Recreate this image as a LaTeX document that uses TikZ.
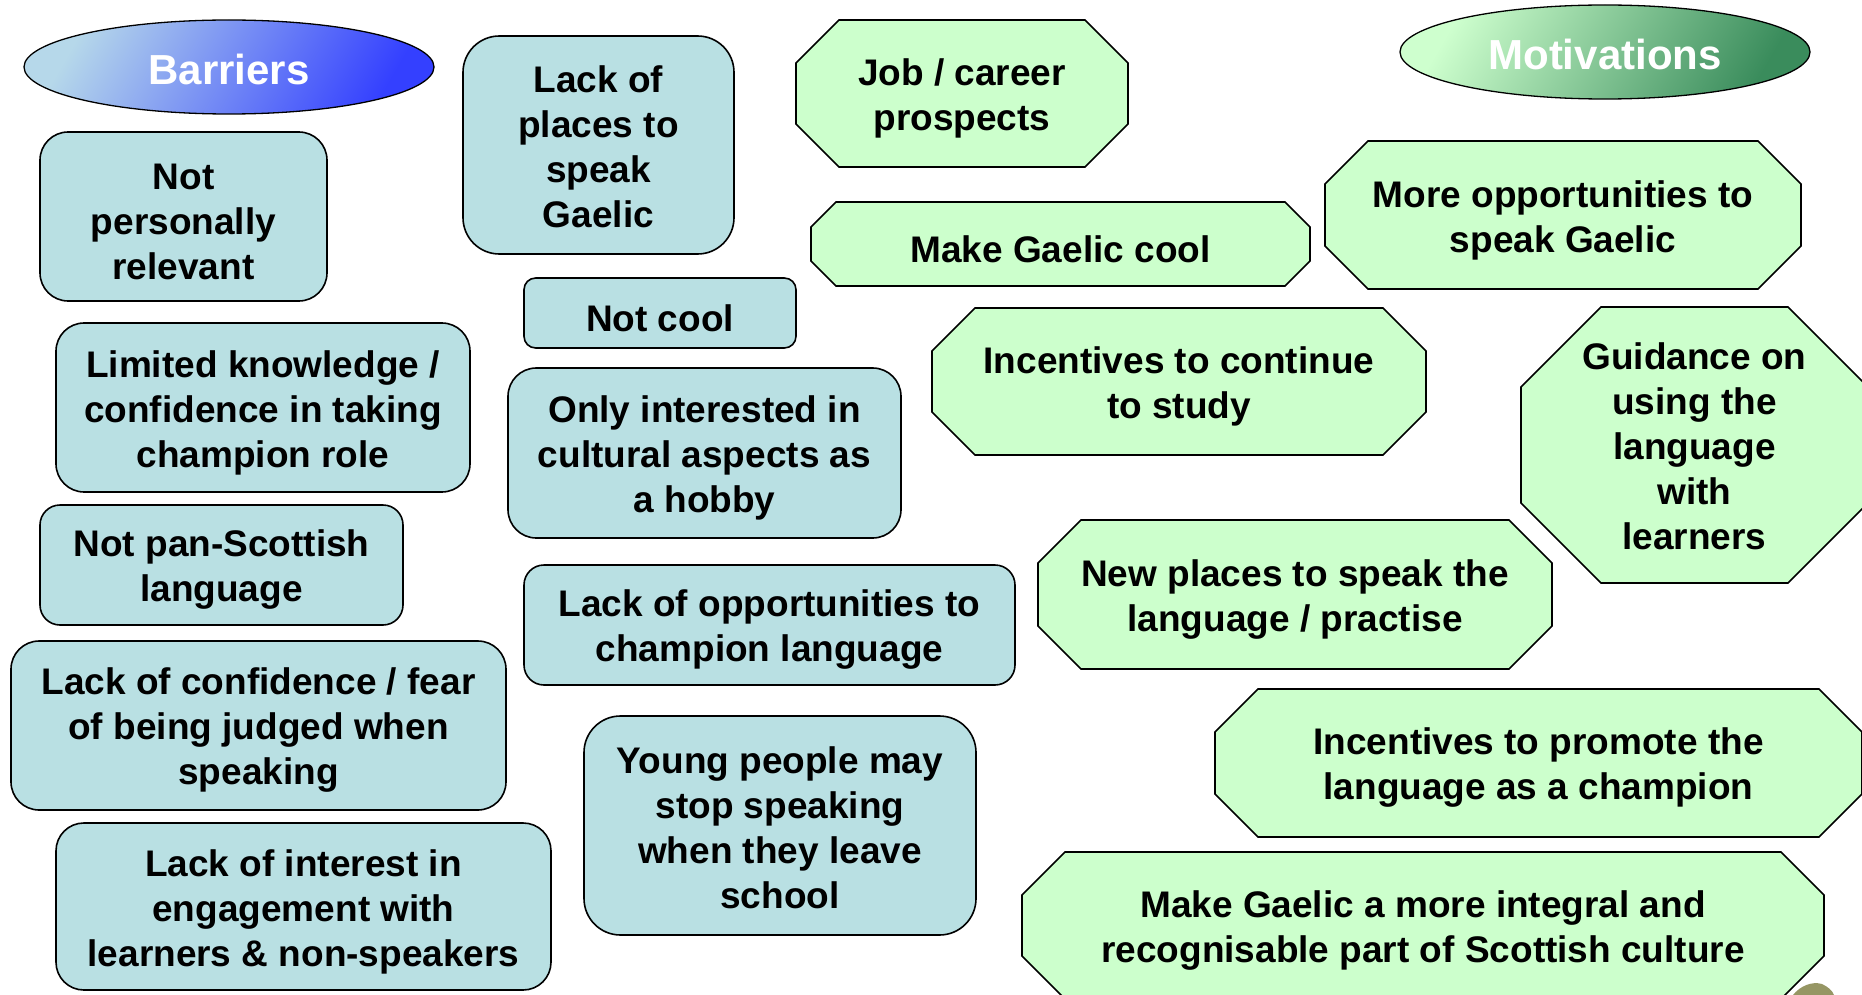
\documentclass[tikz,border=0pt]{standalone}
\usepackage{fontspec}
\setmainfont{Liberation Sans}
\definecolor{barrierblue}{RGB}{185,224,227}
\definecolor{motivgreen}{RGB}{204,255,204}
\definecolor{headblueA}{RGB}{182,216,234}
\definecolor{headblueB}{RGB}{52,64,255}
\definecolor{headgreenA}{RGB}{206,255,206}
\definecolor{headgreenB}{RGB}{58,140,92}
\definecolor{leafolive}{RGB}{150,150,100}

% rounded barrier box: [text shift], name, x1, y1, x2, y2, text
\newcommand\barrierbox[7][-5]{%
  \pgfmathsetmacro\bbrad{0.1667*min(#5-#3,#6-#4)}%
  \draw[barrierfill, rounded corners=\bbrad pt] (#3,#4) rectangle (#5,#6);
  \node[boxtext, yshift=#1pt] (#2) at ({(#3+#5)/2},{(#4+#6)/2}) {#7};
}
% octagonal motivation box: [text shift], name, x1, y1, x2, y2, corner cut, text
\newcommand\motivbox[8][-5]{%
  \draw[motivfill] ({#3+#7},#4) -- ({#5-#7},#4) -- (#5,{#4+#7}) -- (#5,{#6-#7})
    -- ({#5-#7},#6) -- ({#3+#7},#6) -- (#3,{#6-#7}) -- (#3,{#4+#7}) -- cycle;
  \node[boxtext, yshift=#1pt] (#2) at ({(#3+#5)/2},{(#4+#6)/2}) {#8};
}

\begin{document}
\begin{tikzpicture}[x=1pt,y=-1pt,
  barrierfill/.style={draw=black, line width=1.6pt, fill=barrierblue},
  motivfill/.style={draw=black, line width=1.6pt, fill=motivgreen, line join=miter},
  boxtext/.style={align=center, font=\fontsize{37}{45}\selectfont\bfseries, text=black,
    inner sep=0pt},
  headtext/.style={font=\fontsize{42}{50}\selectfont\bfseries, text=white, inner sep=0pt},
  headshape/.style={draw=black, line width=1.3pt}]

\clip (0,0) rectangle (1862,995);
\fill[white] (0,0) rectangle (1862,995);

% headings
\shade[headshape, top color=headblueA, bottom color=headblueB, shading angle=60]
  (229,67) ellipse [x radius=205, y radius=47];
\node[headtext] (barriers) at (229,69) {Barriers};
\shade[headshape, top color=headgreenA, bottom color=headgreenB, shading angle=60]
  (1605,52) ellipse [x radius=205, y radius=47];
\node[headtext] (motivations) at (1605,54) {Motivations};

% barriers
\barrierbox{b1}{40}{132}{327}{301}{Not\\personally\\relevant}
\barrierbox[-2]{b2}{463}{36}{734}{254}{Lack of\\places to\\speak\\Gaelic}
\barrierbox{b3}{524}{278}{796}{348}{Not cool}
\barrierbox{b4}{56}{323}{470}{492}{Limited knowledge /\\confidence in taking\\champion role}
\barrierbox{b5}{508}{368}{901}{538}{Only interested in\\cultural aspects as\\a hobby}
\barrierbox{b6}{40}{505}{403}{625}{Not pan-Scottish\\language}
\barrierbox{b7}{524}{565}{1015}{685}{Lack of opportunities to\\champion language}
\barrierbox{b8}{11}{641}{506}{810}{Lack of confidence / fear\\of being judged when\\speaking}
\barrierbox[-2]{b9}{584}{716}{976}{935}{Young people may\\stop speaking\\when they leave\\school}
\barrierbox{b10}{56}{823}{551}{990}{Lack of interest in\\engagement with\\learners \& non-speakers}

% motivations
\motivbox{m1}{796}{20}{1128}{167}{43}{Job / career\\prospects}
\motivbox{m2}{811}{202}{1310}{286}{25}{Make Gaelic cool}
\motivbox{m3}{1325}{141}{1801}{289}{43}{More opportunities to\\speak Gaelic}
\motivbox{m4}{932}{308}{1426}{455}{43}{Incentives to continue\\to study}
\motivbox[-1]{m5}{1521}{307}{1868}{583}{80}{Guidance on\\using the\\language\\with\\learners}
\motivbox{m6}{1038}{520}{1552}{669}{43}{New places to speak the\\language / practise}
\motivbox{m7}{1215}{689}{1862}{837}{43}{Incentives to promote the\\language as a champion}
\motivbox{m8}{1022}{852}{1824}{999}{43}{Make Gaelic a more integral and\\recognisable part of Scottish culture}

% corner of a leaf emblem
\fill[leafolive] (1793,995) .. controls (1800,986) and (1812,981) .. (1822,984)
  .. controls (1828,987) and (1832,990) .. (1834,995) -- cycle;
\end{tikzpicture}
\end{document}
